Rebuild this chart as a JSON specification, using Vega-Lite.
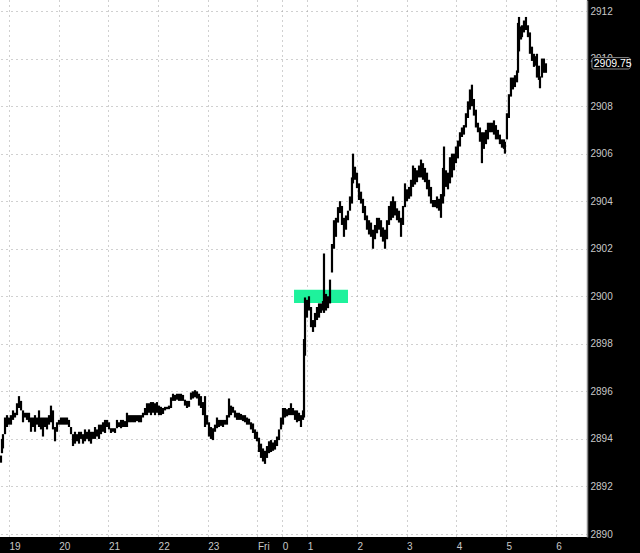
{
  "$schema": "https://vega.github.io/schema/vega-lite/v6.json",
  "width": 587,
  "height": 537,
  "autosize": {"type": "none"},
  "padding": {"left": 0, "top": 0, "right": 53, "bottom": 16},
  "background": "#000000",
  "config": {
    "view": {"stroke": null, "fill": "#ffffff"},
    "font": "Liberation Sans"
  },
  "datasets": {
    "bars": [
      {"t":18.839,"lo":2893.0,"hi":2893.3},{"t":18.859,"lo":2893.4,"hi":2894.0},{"t":18.879,"lo":2893.6,"hi":2894.2},{"t":18.92,"lo":2894.2,"hi":2894.9},{"t":18.96,"lo":2894.5,"hi":2895.0},
      {"t":19.0,"lo":2894.6,"hi":2894.9},{"t":19.04,"lo":2894.6,"hi":2895.0},{"t":19.081,"lo":2894.8,"hi":2895.2},{"t":19.121,"lo":2894.9,"hi":2895.1},{"t":19.161,"lo":2895.0,"hi":2895.5},
      {"t":19.201,"lo":2895.3,"hi":2895.8},{"t":19.242,"lo":2895.2,"hi":2895.6},{"t":19.282,"lo":2894.7,"hi":2895.2},{"t":19.322,"lo":2894.9,"hi":2895.1},{"t":19.362,"lo":2894.8,"hi":2895.1},
      {"t":19.403,"lo":2894.7,"hi":2895.1},{"t":19.443,"lo":2894.3,"hi":2894.9},{"t":19.483,"lo":2894.5,"hi":2894.9},{"t":19.523,"lo":2894.3,"hi":2895.0},{"t":19.564,"lo":2894.6,"hi":2894.9},
      {"t":19.604,"lo":2894.5,"hi":2895.2},{"t":19.644,"lo":2894.4,"hi":2894.9},{"t":19.684,"lo":2894.1,"hi":2894.9},{"t":19.724,"lo":2894.5,"hi":2894.9},{"t":19.765,"lo":2894.4,"hi":2894.9},
      {"t":19.805,"lo":2894.6,"hi":2895.0},{"t":19.845,"lo":2894.7,"hi":2895.4},{"t":19.885,"lo":2894.4,"hi":2895.2},{"t":19.926,"lo":2893.9,"hi":2894.5},{"t":19.966,"lo":2894.3,"hi":2894.7},
      {"t":20.006,"lo":2894.6,"hi":2894.8},{"t":20.046,"lo":2894.6,"hi":2894.9},{"t":20.087,"lo":2894.6,"hi":2894.9},{"t":20.127,"lo":2894.6,"hi":2894.9},{"t":20.167,"lo":2894.6,"hi":2894.9},
      {"t":20.207,"lo":2894.5,"hi":2894.8},{"t":20.248,"lo":2894.2,"hi":2894.5},{"t":20.288,"lo":2893.7,"hi":2894.2},{"t":20.328,"lo":2893.8,"hi":2894.3},{"t":20.368,"lo":2893.9,"hi":2894.2},
      {"t":20.409,"lo":2893.8,"hi":2894.3},{"t":20.449,"lo":2894.0,"hi":2894.3},{"t":20.489,"lo":2893.8,"hi":2894.2},{"t":20.529,"lo":2893.9,"hi":2894.4},{"t":20.57,"lo":2894.0,"hi":2894.3},
      {"t":20.61,"lo":2893.9,"hi":2894.4},{"t":20.65,"lo":2893.8,"hi":2894.3},{"t":20.69,"lo":2894.0,"hi":2894.3},{"t":20.731,"lo":2894.0,"hi":2894.5},{"t":20.771,"lo":2894.1,"hi":2894.4},
      {"t":20.811,"lo":2894.0,"hi":2894.6},{"t":20.851,"lo":2894.2,"hi":2894.6},{"t":20.892,"lo":2894.3,"hi":2894.7},{"t":20.932,"lo":2894.25,"hi":2894.8},{"t":20.972,"lo":2894.5,"hi":2894.8},
      {"t":21.012,"lo":2894.4,"hi":2894.7},{"t":21.052,"lo":2894.25,"hi":2894.45},{"t":21.093,"lo":2894.3,"hi":2894.45},{"t":21.133,"lo":2894.25,"hi":2894.45},{"t":21.173,"lo":2894.45,"hi":2894.8},
      {"t":21.213,"lo":2894.5,"hi":2894.7},{"t":21.254,"lo":2894.45,"hi":2894.8},{"t":21.294,"lo":2894.5,"hi":2894.8},{"t":21.334,"lo":2894.5,"hi":2894.75},{"t":21.374,"lo":2894.5,"hi":2895.1},
      {"t":21.415,"lo":2894.7,"hi":2895.0},{"t":21.455,"lo":2894.7,"hi":2895.0},{"t":21.495,"lo":2894.7,"hi":2895.0},{"t":21.535,"lo":2894.7,"hi":2895.0},{"t":21.576,"lo":2894.75,"hi":2895.0},
      {"t":21.616,"lo":2894.7,"hi":2895.0},{"t":21.656,"lo":2894.7,"hi":2895.0},{"t":21.696,"lo":2894.9,"hi":2895.1},{"t":21.737,"lo":2895.0,"hi":2895.3},{"t":21.777,"lo":2895.0,"hi":2895.5},
      {"t":21.817,"lo":2895.1,"hi":2895.5},{"t":21.857,"lo":2895.0,"hi":2895.55},{"t":21.898,"lo":2895.1,"hi":2895.55},{"t":21.938,"lo":2895.0,"hi":2895.5},{"t":21.978,"lo":2895.1,"hi":2895.55},
      {"t":22.018,"lo":2895.0,"hi":2895.4},{"t":22.058,"lo":2895.0,"hi":2895.35},{"t":22.099,"lo":2895.05,"hi":2895.3},{"t":22.139,"lo":2895.2,"hi":2895.35},{"t":22.179,"lo":2895.25,"hi":2895.35},
      {"t":22.219,"lo":2895.25,"hi":2895.4},{"t":22.26,"lo":2895.3,"hi":2895.75},{"t":22.3,"lo":2895.6,"hi":2895.9},{"t":22.34,"lo":2895.6,"hi":2895.85},{"t":22.38,"lo":2895.65,"hi":2895.9},
      {"t":22.421,"lo":2895.6,"hi":2895.9},{"t":22.461,"lo":2895.6,"hi":2895.9},{"t":22.501,"lo":2895.6,"hi":2895.85},{"t":22.541,"lo":2895.4,"hi":2895.65},{"t":22.582,"lo":2895.3,"hi":2895.6},
      {"t":22.622,"lo":2895.35,"hi":2895.6},{"t":22.662,"lo":2895.65,"hi":2895.95},{"t":22.702,"lo":2895.7,"hi":2896.0},{"t":22.743,"lo":2895.75,"hi":2896.05},{"t":22.783,"lo":2895.7,"hi":2896.0},
      {"t":22.823,"lo":2895.4,"hi":2895.9},{"t":22.863,"lo":2895.3,"hi":2895.8},{"t":22.904,"lo":2895.0,"hi":2895.55},{"t":22.944,"lo":2894.5,"hi":2895.8},{"t":22.984,"lo":2894.6,"hi":2895.0},
      {"t":23.024,"lo":2894.1,"hi":2894.7},{"t":23.064,"lo":2894.0,"hi":2894.5},{"t":23.105,"lo":2893.95,"hi":2894.45},{"t":23.145,"lo":2894.3,"hi":2894.6},{"t":23.185,"lo":2894.45,"hi":2894.9},
      {"t":23.225,"lo":2894.5,"hi":2894.8},{"t":23.266,"lo":2894.55,"hi":2894.8},{"t":23.306,"lo":2894.5,"hi":2894.8},{"t":23.346,"lo":2894.6,"hi":2894.8},{"t":23.386,"lo":2894.6,"hi":2895.0},
      {"t":23.427,"lo":2894.9,"hi":2895.7},{"t":23.467,"lo":2895.0,"hi":2895.4},{"t":23.507,"lo":2895.1,"hi":2895.35},{"t":23.547,"lo":2894.9,"hi":2895.2},{"t":23.588,"lo":2894.8,"hi":2895.1},
      {"t":23.628,"lo":2894.8,"hi":2895.1},{"t":23.668,"lo":2894.8,"hi":2895.05},{"t":23.708,"lo":2894.75,"hi":2895.0},{"t":23.749,"lo":2894.7,"hi":2895.0},{"t":23.789,"lo":2894.6,"hi":2894.9},
      {"t":23.829,"lo":2894.6,"hi":2894.85},{"t":23.869,"lo":2894.4,"hi":2894.7},{"t":23.91,"lo":2894.25,"hi":2894.65},{"t":23.95,"lo":2894.0,"hi":2894.4},{"t":23.99,"lo":2893.9,"hi":2894.3},
      {"t":24.03,"lo":2893.45,"hi":2894.05},{"t":24.071,"lo":2893.2,"hi":2893.8},{"t":24.111,"lo":2893.05,"hi":2893.6},{"t":24.151,"lo":2892.95,"hi":2893.5},{"t":24.191,"lo":2893.2,"hi":2893.7},
      {"t":24.232,"lo":2893.4,"hi":2893.9},{"t":24.272,"lo":2893.45,"hi":2893.95},{"t":24.312,"lo":2893.5,"hi":2893.85},{"t":24.352,"lo":2893.55,"hi":2893.95},{"t":24.393,"lo":2893.7,"hi":2894.1},
      {"t":24.433,"lo":2893.95,"hi":2894.4},{"t":24.473,"lo":2894.4,"hi":2894.9},{"t":24.513,"lo":2894.6,"hi":2895.3},{"t":24.553,"lo":2894.9,"hi":2895.3},{"t":24.594,"lo":2894.95,"hi":2895.25},
      {"t":24.634,"lo":2895.0,"hi":2895.3},{"t":24.674,"lo":2895.0,"hi":2895.5},{"t":24.714,"lo":2895.0,"hi":2895.3},{"t":24.755,"lo":2894.8,"hi":2895.2},{"t":24.795,"lo":2894.7,"hi":2895.2},
      {"t":24.835,"lo":2894.75,"hi":2895.1},{"t":24.875,"lo":2894.5,"hi":2895.0},{"t":24.916,"lo":2894.8,"hi":2895.2},{"t":24.936,"lo":2894.9,"hi":2898.2},{"t":24.956,"lo":2897.5,"hi":2899.95},
      {"t":24.996,"lo":2899.1,"hi":2899.85},{"t":25.036,"lo":2899.4,"hi":2900.0},{"t":25.077,"lo":2898.7,"hi":2899.55},{"t":25.117,"lo":2898.5,"hi":2899.0},{"t":25.157,"lo":2898.7,"hi":2899.3},
      {"t":25.197,"lo":2899.0,"hi":2899.55},{"t":25.238,"lo":2899.1,"hi":2899.7},{"t":25.278,"lo":2899.3,"hi":2899.7},{"t":25.318,"lo":2899.4,"hi":2899.8},{"t":25.338,"lo":2899.3,"hi":2901.8},
      {"t":25.378,"lo":2899.4,"hi":2900.1},{"t":25.419,"lo":2899.5,"hi":2900.0},{"t":25.459,"lo":2899.7,"hi":2900.7},{"t":25.499,"lo":2901.0,"hi":2902.2},{"t":25.539,"lo":2902.0,"hi":2903.2},
      {"t":25.579,"lo":2902.5,"hi":2903.3},{"t":25.62,"lo":2903.1,"hi":2903.75},{"t":25.66,"lo":2903.5,"hi":2904.0},{"t":25.7,"lo":2903.0,"hi":2903.8},{"t":25.74,"lo":2902.5,"hi":2903.3},
      {"t":25.781,"lo":2902.8,"hi":2903.4},{"t":25.821,"lo":2903.2,"hi":2903.6},{"t":25.861,"lo":2903.6,"hi":2904.2},{"t":25.901,"lo":2903.9,"hi":2905.0},{"t":25.922,"lo":2904.75,"hi":2906.0},
      {"t":25.962,"lo":2904.9,"hi":2905.45},{"t":26.002,"lo":2904.55,"hi":2905.2},{"t":26.042,"lo":2904.05,"hi":2904.75},{"t":26.083,"lo":2903.9,"hi":2904.4},{"t":26.123,"lo":2903.5,"hi":2904.1},
      {"t":26.163,"lo":2903.2,"hi":2903.8},{"t":26.203,"lo":2902.8,"hi":2903.4},{"t":26.244,"lo":2902.6,"hi":2903.2},{"t":26.284,"lo":2902.5,"hi":2903.1},{"t":26.324,"lo":2902.0,"hi":2902.8},
      {"t":26.364,"lo":2902.4,"hi":2903.0},{"t":26.405,"lo":2902.65,"hi":2903.3},{"t":26.445,"lo":2902.8,"hi":2903.3},{"t":26.485,"lo":2902.5,"hi":2903.2},{"t":26.525,"lo":2902.3,"hi":2902.9},
      {"t":26.566,"lo":2902.0,"hi":2902.8},{"t":26.606,"lo":2902.4,"hi":2903.2},{"t":26.646,"lo":2903.0,"hi":2903.8},{"t":26.686,"lo":2903.2,"hi":2904.0},{"t":26.727,"lo":2903.3,"hi":2904.2},
      {"t":26.767,"lo":2903.4,"hi":2904.0},{"t":26.807,"lo":2903.2,"hi":2903.7},{"t":26.847,"lo":2903.1,"hi":2903.6},{"t":26.888,"lo":2902.5,"hi":2903.3},{"t":26.928,"lo":2903.0,"hi":2903.8},
      {"t":26.968,"lo":2903.75,"hi":2904.75},{"t":27.008,"lo":2904.0,"hi":2904.5},{"t":27.049,"lo":2904.1,"hi":2904.6},{"t":27.089,"lo":2904.2,"hi":2904.9},{"t":27.129,"lo":2904.6,"hi":2905.5},
      {"t":27.169,"lo":2904.7,"hi":2905.4},{"t":27.209,"lo":2904.8,"hi":2905.3},{"t":27.25,"lo":2905.0,"hi":2905.5},{"t":27.29,"lo":2905.0,"hi":2905.75},{"t":27.33,"lo":2904.9,"hi":2905.6},
      {"t":27.37,"lo":2904.8,"hi":2905.4},{"t":27.411,"lo":2904.5,"hi":2905.2},{"t":27.451,"lo":2904.2,"hi":2904.9},{"t":27.491,"lo":2903.9,"hi":2904.6},{"t":27.531,"lo":2903.75,"hi":2904.05},
      {"t":27.572,"lo":2903.75,"hi":2904.05},{"t":27.612,"lo":2903.7,"hi":2904.2},{"t":27.652,"lo":2903.6,"hi":2904.1},{"t":27.692,"lo":2903.3,"hi":2904.3},{"t":27.733,"lo":2903.9,"hi":2905.4},
      {"t":27.753,"lo":2904.2,"hi":2906.3},{"t":27.793,"lo":2904.6,"hi":2905.3},{"t":27.833,"lo":2904.5,"hi":2905.2},{"t":27.873,"lo":2904.75,"hi":2905.85},{"t":27.913,"lo":2905.0,"hi":2906.0},
      {"t":27.953,"lo":2905.3,"hi":2906.0},{"t":27.993,"lo":2905.6,"hi":2906.3},{"t":28.033,"lo":2905.8,"hi":2906.55},{"t":28.074,"lo":2906.3,"hi":2906.9},{"t":28.114,"lo":2906.7,"hi":2907.1},
      {"t":28.154,"lo":2906.8,"hi":2907.2},{"t":28.194,"lo":2907.1,"hi":2907.7},{"t":28.235,"lo":2907.5,"hi":2908.2},{"t":28.275,"lo":2907.85,"hi":2908.7},{"t":28.315,"lo":2908.0,"hi":2908.9},
      {"t":28.355,"lo":2907.6,"hi":2908.3},{"t":28.395,"lo":2907.1,"hi":2907.85},{"t":28.436,"lo":2906.9,"hi":2907.3},{"t":28.476,"lo":2906.5,"hi":2907.1},{"t":28.516,"lo":2905.6,"hi":2906.9},
      {"t":28.556,"lo":2906.2,"hi":2906.9},{"t":28.597,"lo":2906.4,"hi":2907.0},{"t":28.637,"lo":2906.6,"hi":2907.3},{"t":28.677,"lo":2906.9,"hi":2907.3},{"t":28.717,"lo":2906.9,"hi":2907.3},
      {"t":28.758,"lo":2906.8,"hi":2907.4},{"t":28.798,"lo":2906.6,"hi":2907.2},{"t":28.838,"lo":2906.6,"hi":2907.0},{"t":28.878,"lo":2906.4,"hi":2906.8},{"t":28.919,"lo":2906.25,"hi":2906.6},
      {"t":28.959,"lo":2906.2,"hi":2906.6},{"t":28.979,"lo":2906.0,"hi":2906.5},{"t":29.019,"lo":2906.6,"hi":2907.7},{"t":29.059,"lo":2907.5,"hi":2908.5},{"t":29.1,"lo":2908.4,"hi":2909.2},
      {"t":29.14,"lo":2908.7,"hi":2909.2},{"t":29.18,"lo":2908.8,"hi":2909.3},{"t":29.222,"lo":2909.0,"hi":2909.5},{"t":29.242,"lo":2909.4,"hi":2911.5},{"t":29.262,"lo":2910.3,"hi":2911.75},
      {"t":29.302,"lo":2910.8,"hi":2911.35},{"t":29.322,"lo":2910.9,"hi":2911.4},{"t":29.362,"lo":2911.1,"hi":2911.6},{"t":29.402,"lo":2911.2,"hi":2911.75},{"t":29.442,"lo":2910.9,"hi":2911.4},
      {"t":29.482,"lo":2910.2,"hi":2911.1},{"t":29.523,"lo":2909.9,"hi":2910.5},{"t":29.563,"lo":2909.65,"hi":2910.2},{"t":29.603,"lo":2909.7,"hi":2910.1},{"t":29.623,"lo":2909.2,"hi":2910.2},
      {"t":29.663,"lo":2909.1,"hi":2909.7},{"t":29.684,"lo":2908.75,"hi":2909.25},{"t":29.724,"lo":2909.2,"hi":2910.0},{"t":29.764,"lo":2909.4,"hi":2910.0},{"t":29.804,"lo":2909.4,"hi":2909.8}
    ],
    "zone": [{"t1": 24.735, "t2": 25.821, "p1": 2899.72, "p2": 2900.27}],
    "last": [{"price": 2909.75, "label": "2909.75"}]
  },
  "layer": [
    {
      "data": {"name": "zone"},
      "mark": {"type": "rect", "fill": "#1ef29c"},
      "encoding": {
        "x": {
          "field": "t1", "type": "quantitative",
          "scale": {"domain": [18.819, 30.63], "nice": false, "zero": false},
          "axis": {
            "orient": "bottom",
            "title": null,
            "values": [19, 20, 21, 22, 23, 24, 24.5, 25, 26, 27, 28, 29, 30],
            "labelExpr": "datum.value == 24 ? 'Fri' : datum.value == 24.5 ? '0' : datum.value > 24 ? format(datum.value - 24, 'd') : format(datum.value, 'd')",
            "domain": false,
            "ticks": false,
            "labelAlign": "left",
            "labelBaseline": "middle",
            "labelPadding": 9,
            "labelColor": "#c8c8c8",
            "labelFontSize": 10,
            "labelFont": "Liberation Sans",
            "grid": true,
            "gridColor": "#a0a0a0",
            "gridDash": [1, 4],
            "gridWidth": 1
          }
        },
        "x2": {"field": "t2"},
        "y": {
          "field": "p1", "type": "quantitative",
          "scale": {"domain": [2889.874, 2912.463], "nice": false, "zero": false},
          "axis": {
            "orient": "right",
            "title": null,
            "values": [2890, 2892, 2894, 2896, 2898, 2900, 2902, 2904, 2906, 2908, 2910, 2912],
            "format": "d",
            "domain": true,
            "domainColor": "#8a8a8a",
            "domainWidth": 1.5,
            "ticks": false,
            "labelAlign": "left",
            "labelBaseline": "middle",
            "labelPadding": 3,
            "labelColor": "#c8c8c8",
            "labelFontSize": 10,
            "labelFont": "Liberation Sans",
            "grid": true,
            "gridColor": "#a0a0a0",
            "gridDash": [1, 4],
            "gridWidth": 1
          }
        },
        "y2": {"field": "p2"}
      }
    },
    {
      "data": {"name": "bars"},
      "mark": {"type": "rule", "color": "#000000", "strokeWidth": 2.2},
      "encoding": {
        "x": {"field": "t", "type": "quantitative"},
        "y": {"field": "lo", "type": "quantitative"},
        "y2": {"field": "hi"}
      }
    },
    {
      "data": {"name": "last"},
      "mark": {"type": "rect", "fill": "#000000", "stroke": "#8a8a8a", "strokeWidth": 1, "cornerRadius": 2},
      "encoding": {
        "x": {"datum": 30.73, "type": "quantitative"},
        "x2": {"datum": 31.5},
        "y": {"datum": 2909.56, "type": "quantitative"},
        "y2": {"datum": 2910.04}
      }
    },
    {
      "data": {"name": "last"},
      "mark": {"type": "text", "color": "#ffffff", "font": "Liberation Sans", "fontSize": 10.5, "align": "left", "baseline": "middle"},
      "encoding": {
        "x": {"datum": 30.765, "type": "quantitative"},
        "y": {"field": "price", "type": "quantitative"},
        "text": {"field": "label"}
      }
    }
  ]
}
